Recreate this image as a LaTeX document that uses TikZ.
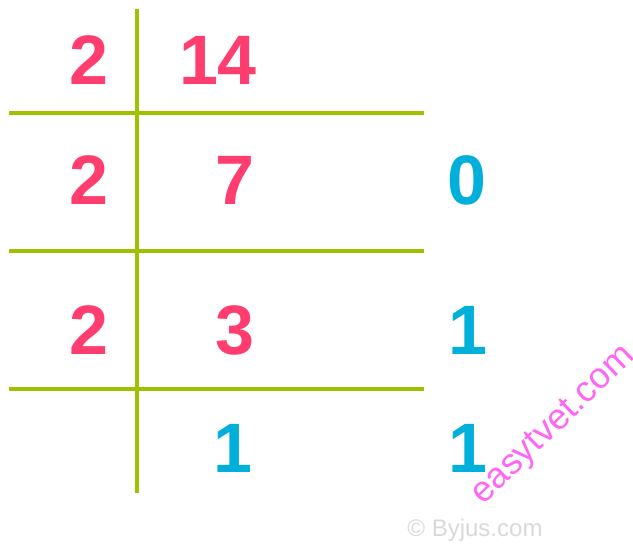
\documentclass[tikz,border=0pt]{standalone}
\usepackage{fontspec}
\setmainfont{Liberation Sans}
\definecolor{numpink}{HTML}{FF3D6E}
\definecolor{numblue}{HTML}{00B0DB}
\definecolor{rulegreen}{HTML}{9CC200}
\definecolor{wmpink}{HTML}{FF66F5}
\definecolor{wmgray}{HTML}{D9D9D9}
\begin{document}
\begin{tikzpicture}[x=1pt,y=-1pt,
  digit/.style={inner sep=0pt,font=\fontsize{70}{72}\bfseries\selectfont},
  divisor/.style={digit,text=numpink},
  quotient/.style={digit,text=numpink},
  remainder/.style={digit,text=numblue},
  rulel/.style={draw=rulegreen,line width=4.5pt}]
\useasboundingbox (0,0) rectangle (633,544);
% rules
\coordinate (vtop) at (137,9);
\coordinate (vbot) at (137,493);
\coordinate (h1l) at (9,113);
\coordinate (h1r) at (424,113);
\coordinate (h2l) at (9,251);
\coordinate (h2r) at (424,251);
\coordinate (h3l) at (9,389);
\coordinate (h3r) at (424,389);
\draw[rulel] (vtop) -- (vbot);
\draw[rulel] (h1l) -- (h1r);
\draw[rulel] (h2l) -- (h2r);
\draw[rulel] (h3l) -- (h3r);
% numbers
\node[divisor] (d1) at (89,60) {2};
\node[quotient] (q1) at (218,60) {14};
\node[divisor] (d2) at (89,180) {2};
\node[quotient] (q2) at (235,180) {7};
\node[remainder] (r2) at (467,180) {0};
\node[divisor] (d3) at (89,330) {2};
\node[quotient] (q3) at (235,330) {3};
\node[remainder] (r3) at (468,330) {1};
\node[remainder] (q4) at (233,448) {1};
\node[remainder] (r4) at (468,448) {1};
% watermarks
\node[text=wmpink,inner sep=0pt,rotate=44,font=\fontsize{36}{40}\selectfont] (wm) at (554,426) {easytvet.com};
\node[text=wmgray,inner sep=0pt,anchor=base,font=\fontsize{24}{26}\selectfont] (by) at (475,536) {© Byjus.com};
\end{tikzpicture}
\end{document}
